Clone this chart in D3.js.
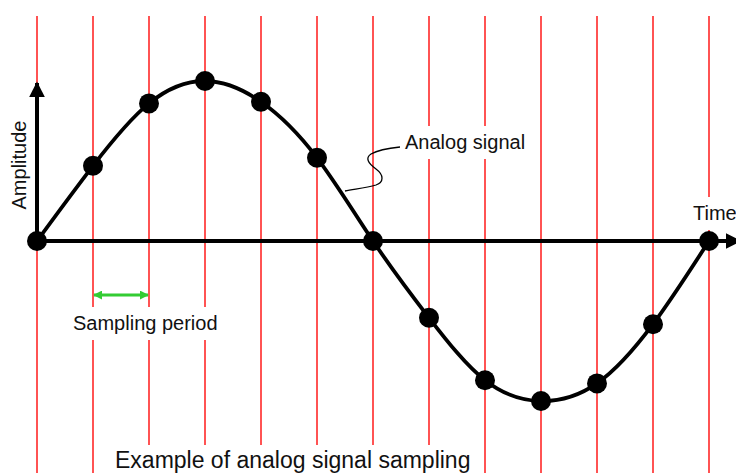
<!DOCTYPE html>
<meta charset="utf-8">
<style>
	body { margin: 0; background: #fff; }
	text { font-family: "Liberation Sans", Arial, sans-serif; fill: #111; }
	.red { stroke: #ff1a1a; stroke-width: 1.5px; }
	.signal { fill: none; stroke: #000; stroke-width: 3.8px; }
</style>
<svg id="chart" width="736" height="473"></svg>
<script src="https://d3js.org/d3.v7.min.js"></script>
<script>
	// sample index along time axis, amplitude
	var sampleIndex = [0, 1, 2, 3, 4, 5, 6, 7, 8, 9, 10, 11, 12];
	var sampleValue = [0, 0.47, 0.86, 1, 0.87, 0.52, 0, -0.48, -0.87, -1, -0.89, -0.52, 0];
	var labels = {amplitude: "Amplitude", time: "Time", analog: "Analog signal", period: "Sampling period", title: "Example of analog signal sampling"};

	var svg = d3.select("#chart");
	var x = d3.scaleLinear().domain([0, 12]).range([37, 709]);
	var y = d3.scaleLinear().domain([-1, 1]).range([401, 81]);

	var defs = svg.append("defs");
	function arrowMarker(id, color, w, h) {
		defs.append("marker").attr("id", id)
			.attr("viewBox", "0 0 10 10").attr("refX", 9).attr("refY", 5)
			.attr("markerWidth", w).attr("markerHeight", h)
			.attr("markerUnits", "userSpaceOnUse")
			.attr("orient", "auto-start-reverse")
			.append("path").attr("d", "M0,0L10,5L0,10Z").attr("fill", color);
	}
	arrowMarker("blk", "#000", 16, 16);
	arrowMarker("grn", "#33cc33", 9, 9);

	// sampling instants
	svg.selectAll(".red").data(sampleIndex).enter().append("line")
		.attr("class", "red")
		.attr("x1", function(d) { return x(d); }).attr("x2", function(d) { return x(d); })
		.attr("y1", 16).attr("y2", 473);

	// label boxes that cover the red lines
	function box(x0, y0, w, h) {
		svg.append("rect").attr("x", x0).attr("y", y0).attr("width", w).attr("height", h).attr("fill", "#fff");
	}
	box(400, 126, 134, 33);
	box(688, 197, 48, 33);
	box(68, 307, 156, 33);
	box(110, 445, 368, 28);

	// axes
	svg.append("line").attr("x1", x(0)).attr("x2", x(0)).attr("y1", y(0)).attr("y2", 83)
		.attr("stroke", "#000").attr("stroke-width", 4).attr("marker-end", "url(#blk)");
	svg.append("line").attr("x1", x(0)).attr("x2", 740).attr("y1", y(0)).attr("y2", y(0))
		.attr("stroke", "#000").attr("stroke-width", 4).attr("marker-end", "url(#blk)");

	// analog signal
	var line = d3.line().curve(d3.curveNatural)
		.x(function(d, i) { return x(sampleIndex[i]); })
		.y(function(d) { return y(d); });
	svg.append("path").attr("class", "signal").attr("d", line(sampleValue));

	svg.selectAll(".dot").data(sampleValue).enter().append("circle")
		.attr("class", "dot")
		.attr("cx", function(d, i) { return x(sampleIndex[i]); })
		.attr("cy", function(d) { return y(d); })
		.attr("r", 10).attr("fill", "#000");

	// leader for "Analog signal"
	svg.append("path")
		.attr("d", "M400,147 C390,148 378,150 371,154 C365,158 368,163 376,169 C384,175 384,182 376,185 C366,188 355,189 345,191")
		.attr("fill", "none").attr("stroke", "#000").attr("stroke-width", 1.3);

	// sampling period arrow
	svg.append("line").attr("x1", x(1) + 1).attr("x2", x(2) - 1).attr("y1", 295).attr("y2", 295)
		.attr("stroke", "#33cc33").attr("stroke-width", 3)
		.attr("marker-start", "url(#grn)").attr("marker-end", "url(#grn)");

	// texts
	svg.append("text").attr("transform", "translate(26,165) rotate(-90)")
		.attr("text-anchor", "middle").style("font-size", "20px").text(labels.amplitude);
	svg.append("text").attr("x", 693).attr("y", 220).style("font-size", "20px").text(labels.time);
	svg.append("text").attr("x", 405).attr("y", 149).style("font-size", "20px").text(labels.analog);
	svg.append("text").attr("x", 73).attr("y", 330).style("font-size", "20px").text(labels.period);
	svg.append("text").attr("x", 115).attr("y", 468).style("font-size", "23px").text(labels.title);
</script>
